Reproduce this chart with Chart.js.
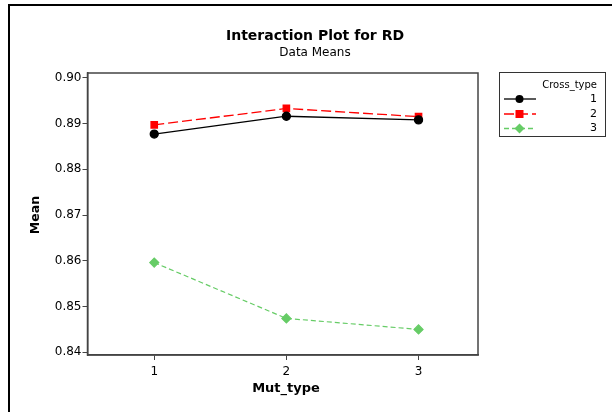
<!DOCTYPE html>
<html>
<head>
<meta charset="utf-8">
<script src="https://cdn.jsdelivr.net/npm/chart.js@4.4.0/dist/chart.umd.min.js"></script>
<style>
  html, body { margin: 0; padding: 0; background: #fff; }
  #wrap { position: relative; width: 612px; height: 412px; overflow: hidden; }
  #frame { position: absolute; left: 8px; top: 4px; width: 700px; height: 500px;
           border-left: 2px solid #000; border-top: 2px solid #000; }
  canvas { position: absolute; left: 0; top: 0; }
</style>
</head>
<body>
<div id="wrap">
  <div id="frame"></div>
  <canvas id="myChart" width="612" height="412"></canvas>
</div>
<script>
'use strict';

let mutTypes = [1, 2, 3];
let crossTypes = ["1", "2", "3"];
let cross1 = [0.8877, 0.8916, 0.8908];
let cross2 = [0.8897, 0.8933, 0.8915];
let cross3 = [0.8596, 0.8474, 0.8450];
let yTicks = [0.84, 0.85, 0.86, 0.87, 0.88, 0.89, 0.90];

let chartTitle = "Interaction Plot for RD";
let chartSubtitle = "Data Means";
let legendTitle = "Cross_type";
let xTitle = "Mut_type";
let yTitle = "Mean";

let green = "rgb(102,204,102)";

function toPoints(values) {
    return values.map(function (v, i) { return { x: mutTypes[i], y: v }; });
}

// titles, axis titles and the box round the plot
let titlePlugin = {
    id: 'titles',
    afterDraw(chart) {
        let ctx = chart.ctx;
        let area = chart.chartArea;
        ctx.save();
        ctx.strokeStyle = '#444';
        ctx.lineWidth = 1.5;
        ctx.strokeRect(area.left, area.top, area.right - area.left, area.bottom - area.top);

        ctx.fillStyle = '#000';
        ctx.textAlign = 'center';
        ctx.textBaseline = 'middle';
        ctx.font = 'bold 14px "DejaVu Sans"';
        ctx.fillText(chartTitle, 315, 36);
        ctx.font = '12px "DejaVu Sans"';
        ctx.fillText(chartSubtitle, 315, 53);

        ctx.font = 'bold 13px "DejaVu Sans"';
        ctx.fillText(xTitle, 286, 389);

        ctx.translate(36, 215);
        ctx.rotate(-Math.PI / 2);
        ctx.font = 'bold 12.5px "DejaVu Sans"';
        ctx.fillText(yTitle, 0, 0);
        ctx.restore();
    }
};

// legend box on the right
let legendPlugin = {
    id: 'boxLegend',
    afterDraw(chart) {
        let ctx = chart.ctx;
        ctx.save();
        ctx.strokeStyle = '#333';
        ctx.lineWidth = 1;
        ctx.strokeRect(499.5, 72.5, 106, 64);
        ctx.fillStyle = '#000';
        ctx.textAlign = 'right';
        ctx.textBaseline = 'middle';
        ctx.font = '10px "DejaVu Sans"';
        ctx.fillText(legendTitle, 597, 85);
        let rows = [99, 114, 128.5];
        chart.data.datasets.forEach(function (ds, i) {
            let y = rows[i];
            ctx.strokeStyle = ds.borderColor;
            ctx.lineWidth = 1.3;
            ctx.setLineDash(ds.borderDash || []);
            ctx.beginPath();
            ctx.moveTo(504, y);
            ctx.lineTo(536, y);
            ctx.stroke();
            ctx.setLineDash([]);
            ctx.fillStyle = ds.pointBackgroundColor;
            ctx.beginPath();
            if (ds.pointStyle === 'circle') {
                ctx.arc(519.5, y, 4, 0, Math.PI * 2);
            } else if (ds.pointStyle === 'rect') {
                ctx.rect(515.5, y - 4, 8, 8);
            } else {
                ctx.moveTo(519.5, y - 5);
                ctx.lineTo(524.5, y);
                ctx.lineTo(519.5, y + 5);
                ctx.lineTo(514.5, y);
                ctx.closePath();
            }
            ctx.fill();
            ctx.fillStyle = '#000';
            ctx.font = '11px "DejaVu Sans"';
            ctx.fillText(ds.label, 597, y);
        });
        ctx.restore();
    }
};

let ctx = document.getElementById('myChart').getContext('2d');
let chart = new Chart(ctx, {
    type: 'line',
    data: {
        datasets: [{
            label: crossTypes[0],
            data: toPoints(cross1),
            borderColor: '#000',
            backgroundColor: '#000',
            pointBackgroundColor: '#000',
            pointBorderColor: '#000',
            pointStyle: 'circle',
            pointRadius: 4,
            borderWidth: 1.3
        },
        {
            label: crossTypes[1],
            data: toPoints(cross2),
            borderColor: '#ff0000',
            backgroundColor: '#ff0000',
            pointBackgroundColor: '#ff0000',
            pointBorderColor: '#ff0000',
            pointStyle: 'rect',
            pointRadius: 4.5,
            borderWidth: 1.3,
            borderDash: [10, 4]
        },
        {
            label: crossTypes[2],
            data: toPoints(cross3),
            borderColor: green,
            backgroundColor: green,
            pointBackgroundColor: green,
            pointBorderColor: green,
            pointStyle: 'rectRot',
            pointRadius: 4.5,
            borderWidth: 1.2,
            borderDash: [5, 3]
        }]
    },
    options: {
        responsive: false,
        animation: false,
        layout: { padding: { top: 73, left: 0, right: 134, bottom: 0 } },
        plugins: {
            legend: { display: false },
            title: { display: false },
            tooltip: { enabled: false }
        },
        scales: {
            x: {
                type: 'linear',
                min: 0.495,
                max: 3.45,
                afterBuildTicks(axis) {
                    axis.ticks = mutTypes.map(function (v) { return { value: v }; });
                },
                afterFit(axis) { axis.height = 57; },
                border: { color: '#444', width: 1.5 },
                grid: { drawOnChartArea: false, tickLength: 5, color: '#444' },
                ticks: {
                    color: '#000',
                    padding: 5,
                    font: { family: 'DejaVu Sans', size: 12 },
                    callback: function (v) { return String(v); }
                }
            },
            y: {
                type: 'linear',
                min: 0.83940,
                max: 0.90105,
                afterBuildTicks(axis) {
                    axis.ticks = yTicks.map(function (v) { return { value: v }; });
                },
                afterFit(axis) { axis.width = 87.5; },
                border: { color: '#444', width: 1.5 },
                grid: { drawOnChartArea: false, tickLength: 5, color: '#444' },
                ticks: {
                    color: '#000',
                    padding: 1,
                    font: { family: 'DejaVu Sans', size: 12 },
                    callback: function (v) { return v.toFixed(2); }
                }
            }
        }
    },
    plugins: [titlePlugin, legendPlugin]
});
</script>
</body>
</html>
